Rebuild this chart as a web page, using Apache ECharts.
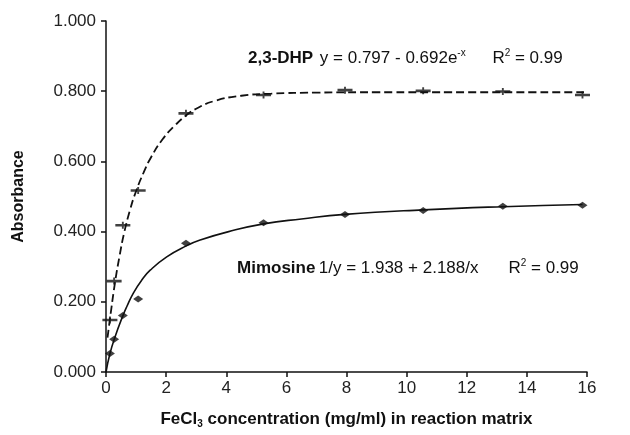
<!DOCTYPE html>
<html>
<head>
<meta charset="utf-8">
<script src="https://cdn.jsdelivr.net/npm/echarts@6/dist/echarts.min.js"></script>
<style>
html, body { margin: 0; padding: 0; background: #fff; }
#main { width: 630px; height: 435px; }
</style>
</head>
<body>
<div id="main"></div>
<script>
var xPoints = [0.13, 0.27, 0.56, 1.07, 2.66, 5.24, 7.95, 10.55, 13.2, 15.85];
var dhpPoints = [0.148, 0.259, 0.418, 0.517, 0.737, 0.789, 0.803, 0.801, 0.799, 0.789];
var mimPoints = [0.053, 0.093, 0.161, 0.208, 0.367, 0.425, 0.449, 0.460, 0.472, 0.475];

// fitted curves
var dhpCurveX = [0.05, 0.13, 0.3, 0.45, 0.6, 0.8, 1.0, 1.25, 1.5, 1.9, 2.3, 2.65, 3.0, 3.6, 4.5, 5.5, 7, 9, 12, 15.9];
var dhpCurveY = [0.098, 0.150, 0.255, 0.330, 0.395, 0.462, 0.515, 0.568, 0.612, 0.665, 0.703, 0.730, 0.750, 0.772, 0.787, 0.793, 0.796, 0.797, 0.797, 0.797];
var mimCurveX = [0, 0.13, 0.3, 0.56, 0.69, 0.91, 1.19, 1.47, 2.02, 2.69, 3.13, 4.08, 5.24, 6.5, 7.95, 10.55, 13.2, 15.85];
var mimCurveY = [0.000, 0.052, 0.100, 0.160, 0.186, 0.225, 0.262, 0.290, 0.328, 0.360, 0.376, 0.400, 0.422, 0.436, 0.449, 0.462, 0.471, 0.477];

function pairs(xs, ys){
	return xs.map(function(x, i){ return [x, ys[i]]; });
}

var FONT = '"Liberation Sans", Arial, sans-serif';

var noteRich = {
	b: { fontFamily: FONT, fontWeight: 'bold', fontSize: 17, fill: '#111', lineHeight: 20 },
	n: { fontFamily: FONT, fontSize: 17, fill: '#111', lineHeight: 20 },
	s: { fontFamily: FONT, fontSize: 10, fill: '#111', verticalAlign: 'top', lineHeight: 11 }
};

var chart = echarts.init(document.getElementById('main'));
chart.setOption({
	backgroundColor: '#fff',
	animation: false,
	textStyle: { fontFamily: FONT },
	grid: { left: 106, right: 43, top: 21, bottom: 63 },
	xAxis: {
		type: 'value',
		min: 0, max: 16, interval: 2,
		name: '{b|FeCl}{sub|3}{b| concentration (mg/ml) in reaction matrix}',
		nameLocation: 'middle',
		nameGap: 37,
		nameTextStyle: {
			rich: {
				b: { fontFamily: FONT, fontWeight: 'bold', fontSize: 17, color: '#111', lineHeight: 20 },
				sub: { fontFamily: FONT, fontWeight: 'bold', fontSize: 10, color: '#111', verticalAlign: 'bottom', lineHeight: 13 }
			}
		},
		axisLine: { lineStyle: { color: '#111', width: 1.5 } },
		axisTick: { length: 5, lineStyle: { color: '#111', width: 1.5 } },
		axisLabel: { color: '#222', fontSize: 17, margin: 8, fontFamily: FONT },
		splitLine: { show: false }
	},
	yAxis: {
		type: 'value',
		min: 0, max: 1, interval: 0.2,
		name: 'Absorbance',
		nameLocation: 'middle',
		nameGap: 79,
		nameTextStyle: { fontFamily: FONT, fontWeight: 'bold', fontSize: 16, color: '#111' },
		axisLine: { show: true, lineStyle: { color: '#111', width: 1.5 } },
		axisTick: { show: true, length: 5, lineStyle: { color: '#111', width: 1.5 } },
		axisLabel: {
			color: '#222', fontSize: 17, margin: 10, fontFamily: FONT,
			formatter: function(v){ return v.toFixed(3); }
		},
		splitLine: { show: false }
	},
	series: [
		{
			name: '2,3-DHP fit',
			type: 'line',
			data: pairs(dhpCurveX, dhpCurveY),
			smooth: 0.5,
			showSymbol: false,
			lineStyle: { color: '#111', width: 1.8, type: [8, 4] },
			z: 2
		},
		{
			name: 'Mimosine fit',
			type: 'line',
			data: pairs(mimCurveX, mimCurveY),
			smooth: 0.5,
			showSymbol: false,
			lineStyle: { color: '#111', width: 1.6 },
			z: 2
		},
		{
			name: '2,3-DHP',
			type: 'scatter',
			data: pairs(xPoints, dhpPoints),
			symbol: 'path://M0,2.5h16v3h-16z M7,0h2v8h-2z',
			symbolSize: [15, 7],
			itemStyle: { color: '#111' },
			z: 3
		},
		{
			name: 'Mimosine',
			type: 'scatter',
			data: pairs(xPoints, mimPoints),
			symbol: 'diamond',
			symbolSize: [10, 7],
			itemStyle: { color: '#111' },
			z: 3
		}
	],
	graphic: [
		{
			type: 'text',
			left: 248,
			top: 48,
			style: {
				text: '{b|2,3-DHP}  {n|y = 0.797 - 0.692e}{s|-x}        {n|R}{s|2}{n| = 0.99}',
				rich: noteRich
			}
		},
		{
			type: 'text',
			left: 237,
			top: 258,
			style: {
				text: '{b|Mimosine} {n|1/y = 1.938 + 2.188/x}         {n|R}{s|2}{n| = 0.99}',
				rich: noteRich
			}
		}
	]
});
</script>
</body>
</html>
